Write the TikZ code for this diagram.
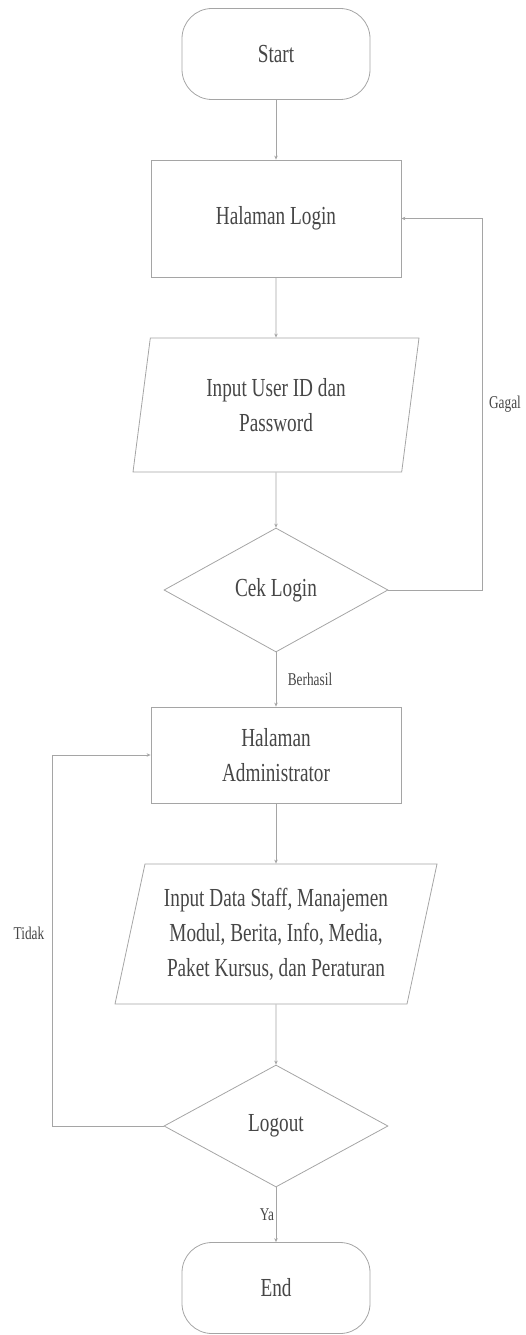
\documentclass[tikz,border=0pt]{standalone}
\usepackage{fontspec}
\setmainfont[FakeStretch=0.74]{Liberation Serif}
\usetikzlibrary{shapes.geometric,arrows.meta}

\definecolor{linegray}{RGB}{165,165,165}
\definecolor{textgray}{RGB}{70,70,70}

\tikzset{
  terminal/.style={draw=linegray, rounded corners=30pt, minimum width=188pt, minimum height=91pt, text=textgray, font=\fontsize{26}{35}\selectfont},
  process/.style={draw=linegray, rectangle, minimum width=250pt, text=textgray, align=center, font=\fontsize{26}{35}\selectfont},
  io/.style={draw=linegray, trapezium, trapezium left angle=72, trapezium right angle=108, trapezium stretches body, minimum width=286pt, inner sep=0pt, text=textgray, align=center, font=\fontsize{26}{35}\selectfont},
  decision/.style={draw=linegray, diamond, minimum width=224pt, minimum height=124pt, inner sep=0pt, text=textgray, font=\fontsize{26}{35}\selectfont},
  flow/.style={draw=linegray, line width=0.8pt, -{Stealth[length=4pt,width=3.5pt]}},
  lbl/.style={text=textgray, font=\fontsize{18}{20}\selectfont}
}

\begin{document}
\begin{tikzpicture}[x=1pt,y=1pt,line width=0.8pt]
\useasboundingbox (0,0) rectangle (525,-1335);

% shapes
\node[terminal] (start) at (276,-54) {Start};
\node[process, minimum height=117pt] (login) at (276,-218.5) {Halaman Login};
\node[io, minimum height=134pt] (input) at (276,-405) {Input User ID dan\\Password};
\node[decision] (cek) at (276,-590) {Cek Login};
\node[process, minimum height=96pt] (admin) at (276,-755) {Halaman\\Administrator};
\node[io, minimum height=140pt, minimum width=322pt] (data) at (276,-934) {Input Data Staff, Manajemen\\Modul, Berita, Info, Media,\\Paket Kursus, dan Peraturan};
\node[decision, minimum height=122pt] (logout) at (276,-1126) {Logout};
\node[terminal] (end) at (276,-1288) {End};

% corners of the loops
\coordinate (gagalturn) at (482,-590);
\coordinate (tidakturn) at (52,-1126);

% flow
\draw[flow] (start) -- (login);
\draw[flow] (login) -- (input);
\draw[flow] (input) -- (cek);
\draw[flow] (cek) -- (admin);
\draw[flow] (admin) -- (data);
\draw[flow] (data) -- (logout);
\draw[flow] (logout) -- (end);
\draw[flow] (cek.east) -- (gagalturn) |- (login.east);
\draw[flow] (logout.west) -- (tidakturn) |- (admin.west);

% labels
\node[lbl] (gagal) at (505,-404) {Gagal};
\node[lbl] (berhasil) at (310,-679) {Berhasil};
\node[lbl] (tidak) at (29,-933) {Tidak};
\node[lbl] (ya) at (267,-1215) {Ya};
\end{tikzpicture}
\end{document}
